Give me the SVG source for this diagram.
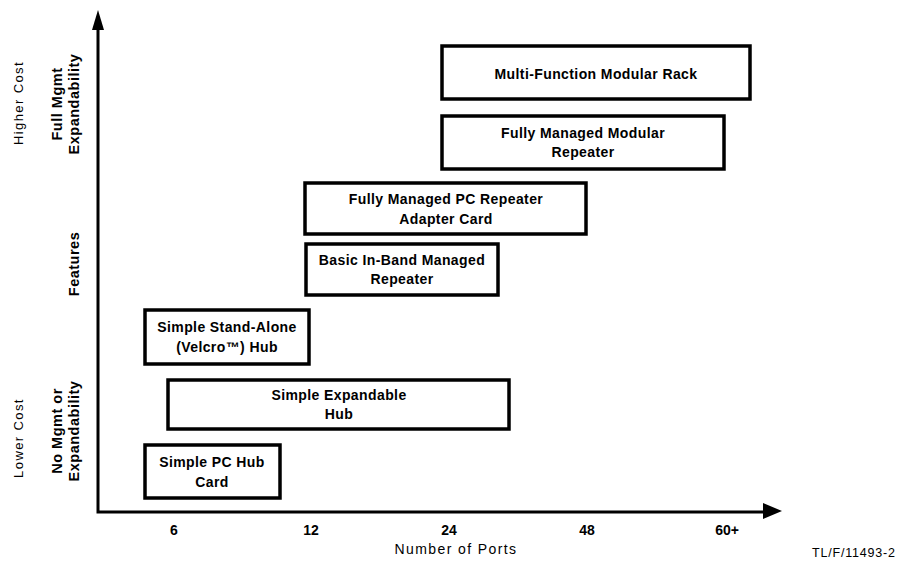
<svg xmlns="http://www.w3.org/2000/svg" width="908" height="561" viewBox="0 0 908 561">
<style>
.box{fill:#fff;stroke:#000;stroke-width:3.5}
.bt{font-family:"Liberation Sans",Arial,sans-serif;font-size:14px;font-weight:bold;letter-spacing:0.4px;text-anchor:middle;fill:#000}
.lb{font-family:"Liberation Sans",Arial,sans-serif;font-size:14px;font-weight:bold;text-anchor:middle;fill:#000}
.ll{font-family:"Liberation Sans",Arial,sans-serif;font-size:14.5px;font-weight:bold;text-anchor:middle;fill:#000;letter-spacing:0.5px}
.lr{font-family:"Liberation Sans",Arial,sans-serif;font-size:13px;text-anchor:middle;fill:#000;letter-spacing:1.4px}
.ax{fill:none;stroke:#000;stroke-width:3}
</style>
<rect width="908" height="561" fill="#fff"/>
<g id="axes">
<path class="ax" d="M98,26 V512 H768"/>
<polygon points="98,10 92,30 104,30" fill="#000"/>
<polygon points="782,511 763,503 763,519" fill="#000"/>
</g>
<g id="y-labels">
<text class="lr" transform="translate(23,103) rotate(-90)">Higher Cost</text>
<text class="ll" transform="translate(62,104) rotate(-90)">Full Mgmt</text>
<text class="ll" transform="translate(79,104) rotate(-90)">Expandability</text>
<text class="ll" transform="translate(79,264) rotate(-90)">Features</text>
<text class="ll" transform="translate(62,431) rotate(-90)">No Mgmt or</text>
<text class="ll" transform="translate(79,431) rotate(-90)">Expandability</text>
<text class="lr" transform="translate(23,438) rotate(-90)">Lower Cost</text>
</g>
<g id="x-labels">
<text class="lb" x="174" y="535">6</text>
<text class="lb" x="311" y="535">12</text>
<text class="lb" x="449" y="535">24</text>
<text class="lb" x="587" y="535">48</text>
<text class="lb" x="727" y="535">60+</text>
<text x="456" y="554" style="font-family:'Liberation Sans',Arial,sans-serif;font-size:14px;letter-spacing:1.4px;text-anchor:middle;fill:#000">Number of Ports</text>
<text x="812" y="557" style="font-family:'Liberation Sans',Arial,sans-serif;font-size:12.5px;letter-spacing:0.8px;fill:#000">TL/F/11493-2</text>
</g>
<g id="multi-function-modular-rack">
<rect class="box" x="442" y="46" width="308" height="53"/>
<text class="bt" x="596" y="79">Multi-Function Modular Rack</text>
</g>
<g id="fully-managed-modular-repeater">
<rect class="box" x="442" y="116" width="282" height="53"/>
<text class="bt" x="583" y="138">Fully Managed Modular</text>
<text class="bt" x="583" y="157">Repeater</text>
</g>
<g id="fully-managed-pc-repeater">
<rect class="box" x="305" y="183" width="281" height="51"/>
<text class="bt" x="446" y="204">Fully Managed PC Repeater</text>
<text class="bt" x="446" y="224">Adapter Card</text>
</g>
<g id="basic-in-band-managed-repeater">
<rect class="box" x="306" y="244" width="192" height="51"/>
<text class="bt" x="402" y="265">Basic In-Band Managed</text>
<text class="bt" x="402" y="284">Repeater</text>
</g>
<g id="simple-stand-alone-hub">
<rect class="box" x="145" y="310" width="164" height="54"/>
<text class="bt" x="227" y="332">Simple Stand-Alone</text>
<text class="bt" x="227" y="352">(Velcro™) Hub</text>
</g>
<g id="simple-expandable-hub">
<rect class="box" x="168" y="380" width="341" height="49"/>
<text class="bt" x="339" y="400">Simple Expandable</text>
<text class="bt" x="339" y="419">Hub</text>
</g>
<g id="simple-pc-hub-card">
<rect class="box" x="145" y="445" width="135" height="53"/>
<text class="bt" x="212" y="467">Simple PC Hub</text>
<text class="bt" x="212" y="487">Card</text>
</g>
</svg>
